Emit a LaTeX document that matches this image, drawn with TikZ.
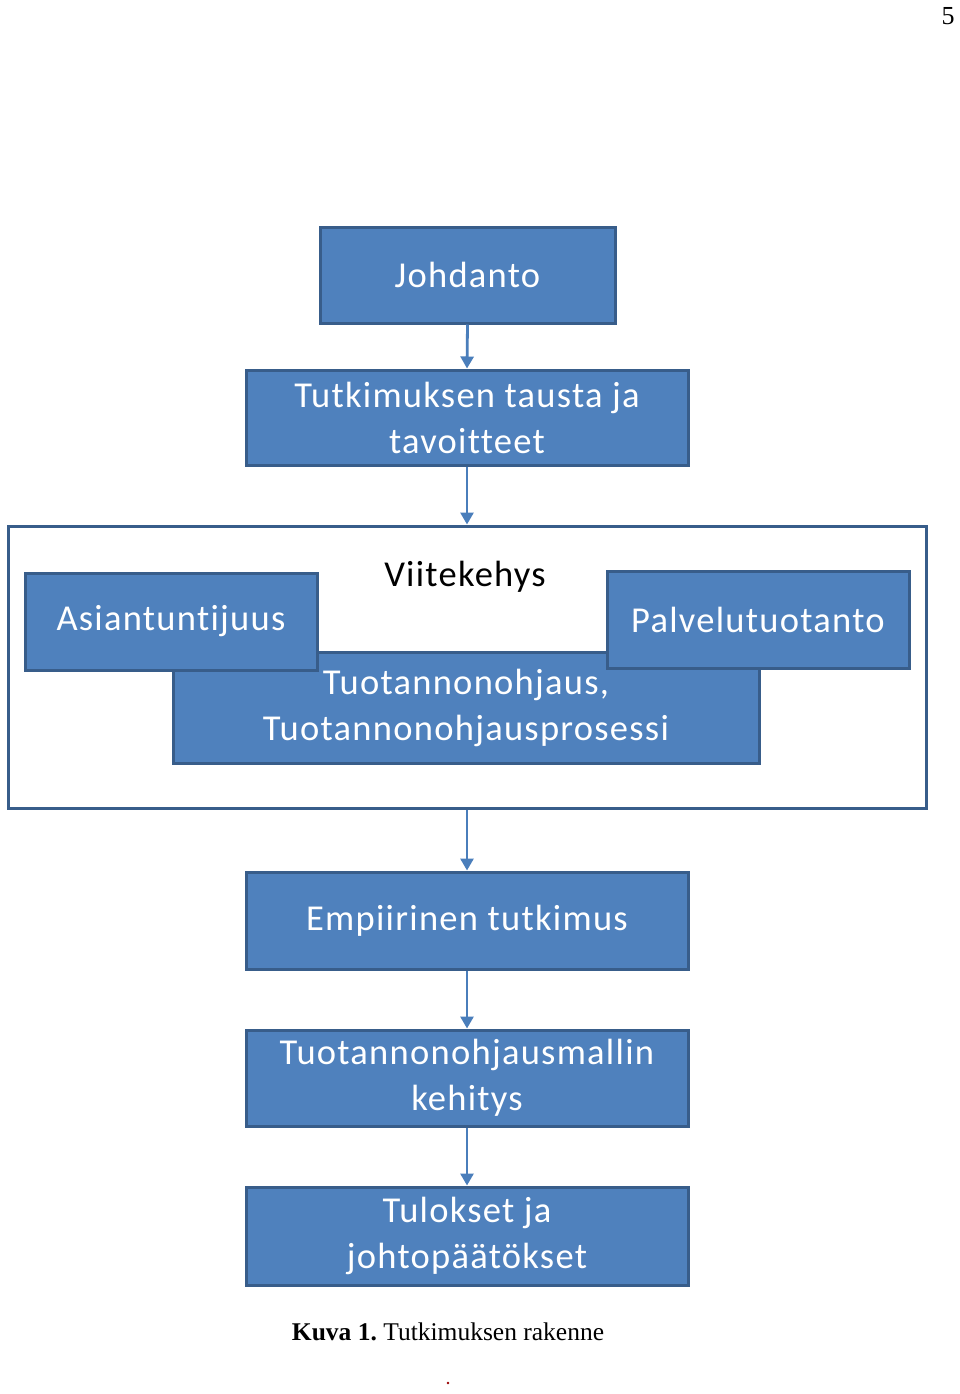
\documentclass[tikz,border=0pt]{standalone}
\usepackage{fontspec}
\setmainfont{Liberation Serif}
\newfontfamily\boxfont[Ligatures=NoCommon,LetterSpace=3.5]{Carlito}
\usetikzlibrary{arrows.meta}
\definecolor{boxfill}{HTML}{4F81BD}
\definecolor{boxline}{HTML}{385D8A}
\definecolor{arrowcol}{HTML}{4A7EBB}
\tikzset{
  boxtext/.style={font=\boxfont\fontsize{36.5}{46}\selectfont},
  bluebox/.style={boxtext, draw=boxline, line width=3pt, fill=boxfill, text=white,
    align=center, inner sep=0pt},
  framebox/.style={draw=boxline, line width=3pt, fill=white, inner sep=0pt},
  flowarrow/.style={draw=arrowcol, line width=2.8pt, -{Triangle[width=13pt,length=12pt]}},
}
\begin{document}
\frenchspacing
\begin{tikzpicture}[x=1pt,y=-1pt]
\useasboundingbox[fill=white] (0,0) rectangle (960,1394);
\node (page) at (948,16) {\fontsize{26}{30}\selectfont 5};
\node[bluebox, minimum width=295pt, minimum height=96pt] (johd) at (467.5,275) {Johdanto};
\node[bluebox, minimum width=442pt, minimum height=95pt] (taus) at (467,417.5) {Tutkimuksen tausta ja\\tavoitteet};
\node[framebox, minimum width=918pt, minimum height=282pt] (frame) at (467,667) {};
\node[boxtext] (viite) at (465,577) {Viitekehys};
\node[bluebox, minimum width=586pt, minimum height=111pt] (tuot) at (466,707.5) {Tuotannonohjaus,\\Tuotannonohjausprosessi};
\node[bluebox, minimum width=292pt, minimum height=97pt] (asia) at (171,621.5) {Asiantuntijuus};
\node[bluebox, minimum width=302pt, minimum height=97pt] (palv) at (758,619.5) {Palvelutuotanto};
\node[bluebox, minimum width=442pt, minimum height=97pt] (empi) at (467,920.5) {Empiirinen tutkimus};
\node[bluebox, minimum width=442pt, minimum height=96pt] (kehi) at (467,1078) {Tuotannonohjausmallin\\kehitys};
\node[bluebox, minimum width=442pt, minimum height=98pt] (tulo) at (467,1236) {Tulokset ja\\johtopäätökset};
\draw[flowarrow] (johd.south) -- (taus.north);
\draw[flowarrow] (taus.south) -- (taus.south |- frame.north);
\draw[flowarrow] (frame.south -| empi.north) -- (empi.north);
\draw[flowarrow] (empi.south) -- (kehi.north);
\draw[flowarrow] (kehi.south) -- (tulo.north);
\node (cap) at (448,1332) {\fontsize{25.5}{29}\selectfont\textbf{Kuva 1.} Tutkimuksen rakenne};
\fill[red!60!black] (448,1383) circle (1.3pt);
\end{tikzpicture}
\end{document}
